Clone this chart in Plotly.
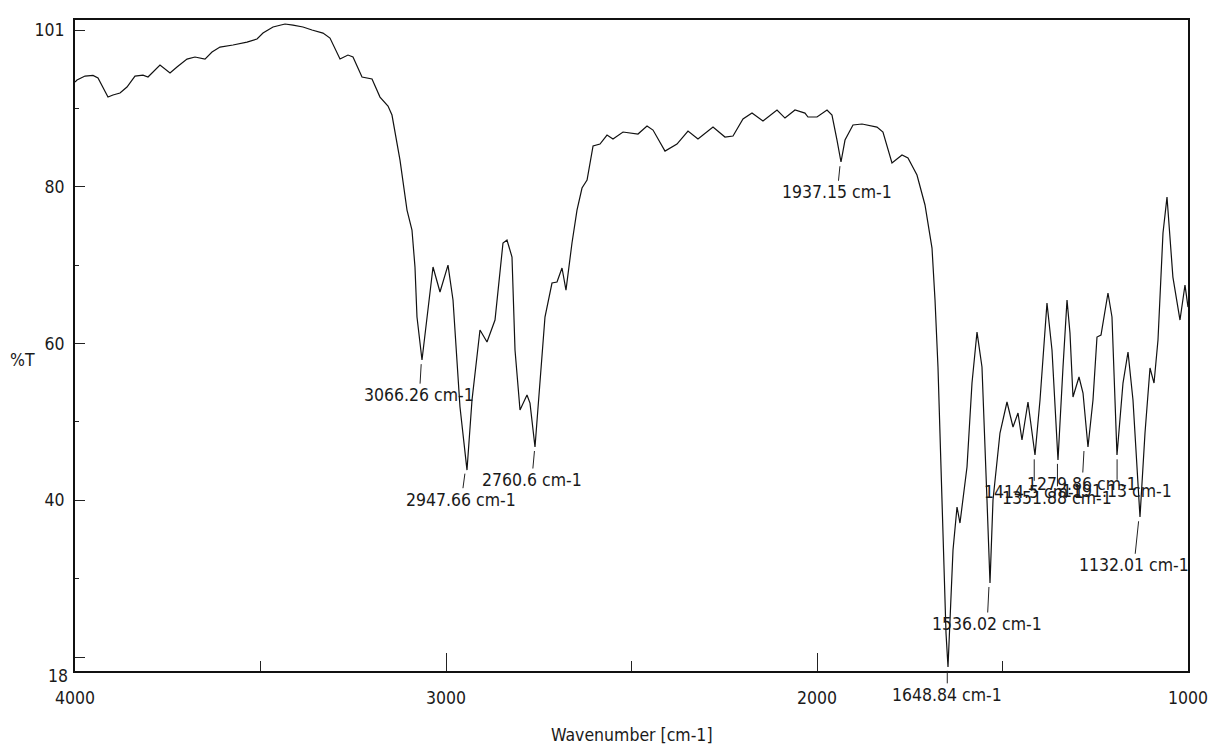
import plotly.graph_objects as go

# ---- Spectrum data ----
wavenumber = [
    4000.0, 3994.6, 3973.0, 3951.5, 3938.0, 3911.1, 3897.6, 3878.7, 3859.9, 3838.3,
    3816.7, 3803.2, 3770.9, 3743.9, 3725.1, 3698.1, 3676.6, 3649.6, 3630.7, 3609.2,
    3574.1, 3536.4, 3509.4, 3493.3, 3466.3, 3434.0, 3412.4, 3385.5, 3361.2, 3331.5,
    3312.7, 3285.7, 3264.2, 3250.7, 3226.4, 3212.9, 3199.4, 3177.9, 3156.3, 3145.6,
    3124.0, 3105.1, 3091.7, 3083.6, 3078.2, 3064.7, 3051.2, 3035.0, 3016.2, 2994.6,
    2981.1, 2962.3, 2943.4, 2929.9, 2908.4, 2889.5, 2867.9, 2859.8, 2846.4, 2835.6,
    2822.1, 2814.0, 2800.5, 2781.7, 2773.6, 2760.1, 2746.6, 2733.2, 2714.3, 2700.8,
    2687.3, 2676.6, 2660.4, 2646.9, 2633.4, 2619.8, 2603.6, 2584.9, 2566.0, 2549.9,
    2522.9, 2482.5, 2458.2, 2442.0, 2409.7, 2377.4, 2347.7, 2320.8, 2280.3, 2248.0,
    2226.4, 2199.5, 2175.2, 2145.6, 2107.8, 2086.3, 2059.3, 2032.4, 2024.3, 2000.0,
    1973.0, 1959.6, 1946.1, 1935.3, 1924.5, 1903.0, 1878.7, 1838.3, 1822.2, 1797.9,
    1770.9, 1754.8, 1730.5, 1708.9, 1690.0, 1681.9, 1673.9, 1668.5, 1660.4, 1652.3,
    1646.9, 1641.5, 1633.4, 1622.6, 1614.6, 1595.7, 1582.2, 1568.7, 1555.3, 1541.8,
    1533.7, 1525.6, 1506.8, 1487.9, 1471.7, 1458.2, 1447.5, 1431.3, 1412.4, 1398.9,
    1380.1, 1366.6, 1350.4, 1336.9, 1326.1, 1318.1, 1310.0, 1293.8, 1283.0, 1269.6,
    1256.1, 1245.3, 1234.5, 1215.7, 1204.9, 1191.4, 1175.2, 1161.7, 1148.3, 1129.4,
    1115.9, 1102.4, 1091.6, 1080.9, 1067.4, 1056.6, 1040.7, 1021.6, 1008.1, 1000.0,
]
transmittance = [
    94.12, 94.38, 94.91, 95.00, 94.65, 92.13, 92.40, 92.66, 93.46, 94.91,
    95.04, 94.78, 96.37, 95.31, 96.10, 97.16, 97.43, 97.16, 98.09, 98.75,
    99.02, 99.41, 99.81, 100.60, 101.40, 101.80, 101.66, 101.40, 101.00, 100.60,
    99.94, 97.16, 97.69, 97.43, 94.78, 94.65, 94.52, 92.13, 90.94, 89.75,
    83.79, 77.17, 74.53, 69.63, 63.01, 57.32, 63.01, 69.63, 66.32, 69.89,
    65.26, 51.10, 42.75, 52.02, 61.29, 59.70, 62.61, 66.58, 72.81, 73.20,
    70.95, 58.64, 50.70, 52.68, 51.62, 45.80, 54.27, 63.01, 67.51, 67.64,
    69.50, 66.58, 72.81, 77.17, 80.09, 81.15, 85.65, 85.91, 87.10, 86.57,
    87.50, 87.23, 88.29, 87.76, 84.98, 85.91, 87.63, 86.57, 88.16, 86.84,
    86.97, 89.22, 90.01, 88.96, 90.41, 89.35, 90.41, 90.01, 89.49, 89.49,
    90.41, 89.75, 86.44, 83.53, 86.44, 88.43, 88.56, 88.16, 87.50, 83.40,
    84.46, 84.07, 81.81, 77.84, 72.14, 65.26, 56.39, 47.65, 34.42, 21.18,
    16.68, 23.30, 32.16, 37.86, 35.74, 43.15, 54.27, 61.02, 56.39, 38.78,
    27.80, 38.78, 47.65, 51.76, 48.45, 50.30, 46.73, 51.76, 44.74, 52.02,
    64.86, 58.64, 44.08, 56.39, 65.26, 60.89, 52.42, 55.07, 52.95, 45.80,
    52.02, 60.36, 60.63, 66.19, 63.01, 44.74, 54.27, 58.38, 52.02, 36.53,
    47.65, 56.26, 54.27, 59.96, 74.13, 78.89, 68.30, 62.61, 67.25, 64.33,
]

# ---- Peak picks ----
peak_labels = ["3066.26 cm-1", "2947.66 cm-1", "2760.6 cm-1", "1937.15 cm-1",
               "1648.84 cm-1", "1536.02 cm-1", "1414.5 cm-1", "1351.88 cm-1",
               "1279.86 cm-1", "1191.13 cm-1", "1132.01 cm-1"]
peak_wn = [3066.26, 2947.66, 2760.6, 1937.15, 1648.84, 1536.02, 1414.5, 1351.88,
           1279.86, 1191.13, 1132.01]
peak_t = [57.3, 42.8, 45.8, 83.5, 16.7, 27.8, 44.7, 44.1, 45.8, 44.7, 36.5]

# ---- Axis ticks ----
x_tick_vals = [4000, 3000, 2000, 1000]
x_tick_text = ["4000", "3000", "2000", "1000"]
y_tick_vals = [18, 38.75, 59.5, 80.25, 101]
y_tick_text = ["", "40", "60", "80", "101"]

# style: label offsets (px) from peak point to label centre
label_dx = [-2, -4, -3, -3, 0, -2, 0, 0, -2, 0, -5]
label_dy = [35, 30, 33, 30, 28, 41, 37, 38, 37, 36, 48]

FONT = "DejaVu Sans Condensed, Liberation Sans Narrow, sans-serif"
FS = 17.5
TXT = "#1a1a1a"

fig = go.Figure()
fig.add_trace(go.Scatter(
    x=wavenumber, y=transmittance, mode="lines",
    line=dict(color="#111111", width=1.2), hoverinfo="skip", showlegend=False,
))

for lab, wn, t, dx, dy in zip(peak_labels, peak_wn, peak_t, label_dx, label_dy):
    fig.add_annotation(
        x=wn, y=t, text=lab, showarrow=True, arrowhead=0, arrowwidth=1,
        arrowcolor="#222222", ax=dx, ay=dy, standoff=4,
        font=dict(family=FONT, size=FS, color=TXT),
    )

fig.add_annotation(x=0, y=0.01, xref="paper", yref="paper", text="18",
                   showarrow=False, xanchor="right", yanchor="top", xshift=-5,
                   font=dict(family=FONT, size=FS, color=TXT))
fig.add_annotation(x=-0.0476, y=0.4777, xref="paper", yref="paper", text="%T",
                   showarrow=False, xanchor="center", yanchor="middle",
                   font=dict(family=FONT, size=FS, color=TXT))
fig.add_annotation(x=0.5, y=-0.0983, xref="paper", yref="paper",
                   text="Wavenumber [cm-1]", showarrow=False,
                   xanchor="center", yanchor="middle",
                   font=dict(family=FONT, size=FS, color=TXT))

fig.update_xaxes(
    range=[4000, 1000], tickmode="array", tickvals=x_tick_vals, ticktext=x_tick_text,
    ticks="inside", ticklen=18, tickwidth=1.3, tickcolor="#222222",
    minor=dict(dtick=500, tick0=1000, ticks="inside", ticklen=10, tickwidth=1.3,
               tickcolor="#222222", showgrid=False),
    showline=True, linecolor="#111111", linewidth=2, mirror=True,
    showgrid=False, zeroline=False, ticklabelstandoff=10,
    tickfont=dict(family=FONT, size=FS, color=TXT),
)
fig.update_yaxes(
    range=[16.15, 102.33], tickmode="array", tickvals=y_tick_vals, ticktext=y_tick_text,
    ticks="inside", ticklen=10, tickwidth=1.3, tickcolor="#222222",
    minor=dict(tick0=18, dtick=10.375, ticks="inside", ticklen=4, tickwidth=1.3,
               tickcolor="#222222", showgrid=False),
    showline=True, linecolor="#111111", linewidth=2, mirror=True,
    showgrid=False, zeroline=False, ticklabelstandoff=5,
    tickfont=dict(family=FONT, size=FS, color=TXT),
)

fig.update_layout(
    width=1224, height=749, margin=dict(l=75, r=36, t=20, b=78),
    paper_bgcolor="white", plot_bgcolor="white",
    font=dict(family=FONT, size=FS, color=TXT),
)

fig.write_html("out.html")
